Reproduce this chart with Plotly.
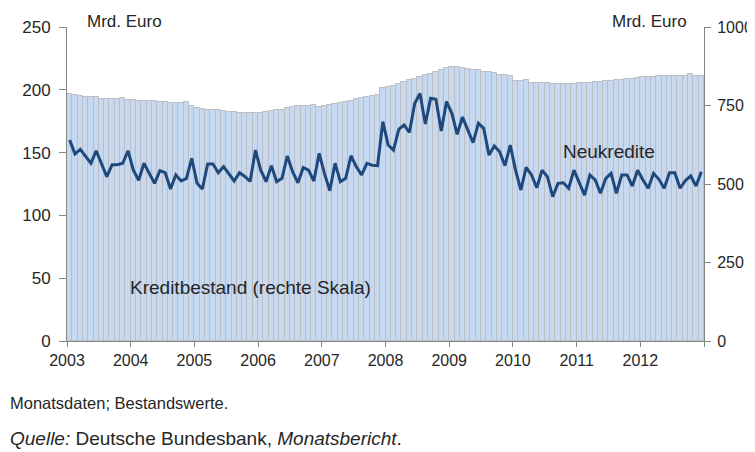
import plotly.graph_objects as go
import numpy as np

# Monthly data Jan 2003 - Dec 2012
kreditbestand = [  # right scale, Mrd. Euro
    787, 784, 780, 777, 776, 776, 772, 772, 771, 771, 775, 768,
    766, 765, 765, 764, 764, 762, 760, 758, 758, 757, 760, 748,
    742, 738, 737, 737, 736, 733, 730, 728, 727, 726, 725, 725,
    727, 729, 733, 735, 736, 741, 744, 747, 748, 749, 752, 746,
    749, 752, 754, 758, 762, 765, 770, 774, 778, 781, 785, 805,
    810, 813, 820, 826, 830, 836, 840, 846, 851, 856, 862, 868,
    872, 872, 871, 866, 863, 862, 857, 856, 855, 846, 846, 843,
    829, 829, 831, 823, 823, 822, 822, 819, 819, 818, 818, 820,
    822, 822, 823, 824, 826, 828, 828, 830, 832, 836, 836, 837,
    840, 842, 842, 844, 844, 845, 845, 844, 845, 849, 844, 843,
]
neukredite = [  # left scale, Mrd. Euro
    160, 149, 152.6, 147, 141.5, 151.5, 141, 130.8, 140.4, 140.4, 141.5, 151.5,
    136, 128, 141.5, 133.7, 125.5, 135.6, 134, 121, 132.2, 127.4, 129.5, 145.4,
    125.5, 121, 141, 141, 134, 138.8, 133, 127.4, 134, 131, 127, 152,
    136, 126.8, 139.6, 126.8, 129.5, 147.3, 134.8, 126, 138, 136, 127.4, 149.4,
    133.5, 119.7, 141.5, 126.8, 129.5, 147.5, 138.8, 132.2, 141.5, 140, 139.6, 174.6,
    156, 152, 168.5, 172, 166, 189, 197, 172.8, 193.2, 192.4, 167.2, 190.6,
    181.3, 164.5, 178.3, 168, 157.9, 173.3, 169.3, 148, 155.3, 150.7, 139.6, 156,
    136, 120.2, 138.3, 132.2, 122, 136, 130.8, 114.9, 125.5, 126, 121.6, 136,
    126.8, 116.2, 132.2, 128.2, 117.6, 129.5, 133.5, 117.6, 132.2, 132.2, 123.4, 136,
    128.2, 121.6, 133.5, 128.7, 121.6, 134, 134, 121.6, 127.7, 131.4, 123.4, 134.8,
]
year_labels = ["2003", "2004", "2005", "2006", "2007", "2008", "2009", "2010", "2011", "2012", ""]
left_ticks = [0, 50, 100, 150, 200, 250]
right_ticks = [0, 250, 500, 750, 1000]

months = np.arange(len(neukredite)) + 0.5
tickpos = list(range(0, 121, 12))

FONT = "Liberation Sans, Arial, sans-serif"
TXT = "#262626"
AX = "#868686"

fig = go.Figure()
fig.add_trace(go.Bar(
    x=months, y=kreditbestand, width=1, yaxis="y",
    marker=dict(color="#C6D9F1", line=dict(color="#BDBDC2", width=1)),
    showlegend=False, hoverinfo="skip",
))
fig.add_trace(go.Scatter(
    x=months, y=neukredite, yaxis="y2", mode="lines",
    line=dict(color="#1F497D", width=3), showlegend=False,
))

# page body has an 8px margin, so the figure is 8px smaller than the window
fig.update_layout(
    width=747, height=444,
    margin=dict(l=59, r=51, t=19, b=111, autoexpand=False),
    paper_bgcolor="white", plot_bgcolor="white",
    font=dict(family=FONT, size=16, color=TXT),
    bargap=0,
    xaxis=dict(
        range=[0, 120], tickmode="array", tickvals=tickpos, ticktext=year_labels,
        showline=True, linecolor=AX, linewidth=1, ticks="outside", ticklen=5,
        tickcolor=AX, showgrid=False, zeroline=False, automargin=False,
        tickfont=dict(size=16, color=TXT),
    ),
    yaxis=dict(
        side="right", range=[0, 1000], tickvals=right_ticks,
        showline=True, linecolor=AX, linewidth=1, ticks="outside", ticklen=6,
        tickcolor=AX, showgrid=False, zeroline=False, automargin=False,
        ticklabelstandoff=3,
        tickfont=dict(size=16, color=TXT),
    ),
    yaxis2=dict(
        side="left", overlaying="y", range=[0, 250], tickvals=left_ticks,
        showline=True, linecolor=AX, linewidth=1, ticks="outside", ticklen=7,
        tickcolor=AX, showgrid=False, zeroline=False, automargin=False,
        ticklabelstandoff=5,
        tickfont=dict(size=17, color=TXT),
    ),
)

def ann(text, x, y, xanchor="left", size=16):
    fig.add_annotation(text=text, x=x, y=y, xref="paper", yref="paper",
                       xanchor=xanchor, yanchor="middle", showarrow=False,
                       font=dict(family=FONT, size=size, color=TXT))

ann("Mrd. Euro", 0.029, 1.019, size=17)
ann("Mrd. Euro", 0.976, 1.019, xanchor="right", size=17)
ann("Neukredite", 0.7755, 0.602, size=19)
ann("Kreditbestand (rechte Skala)", 0.0958, 0.169, size=19)
ann("Monatsdaten; Bestandswerte.", -0.0926, -0.1975, size=16.5)
ann("<i>Quelle:</i> Deutsche Bundesbank, <i>Monatsbericht</i>.", -0.0926, -0.312, size=19)

fig.write_html("out.html")
